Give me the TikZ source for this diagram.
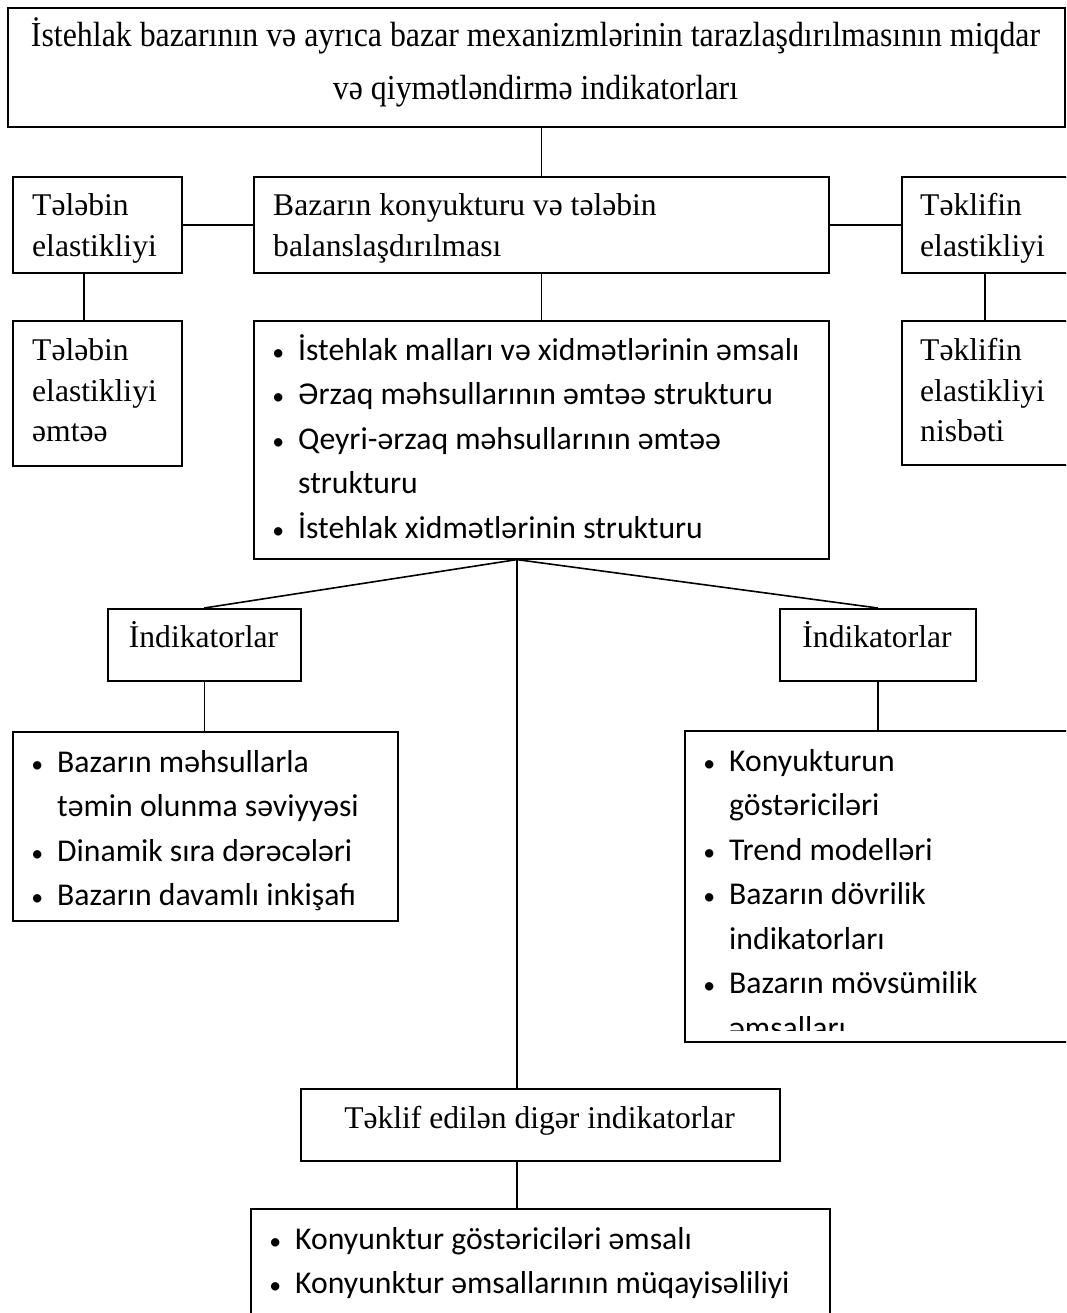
\documentclass[tikz,border=0pt]{standalone}
\usepackage{graphicx}
\usepackage{fontspec}
\setmainfont{Liberation Serif}
\newfontfamily\calibfont{Carlito}
% small bullet centred on the anchor point, item text 20pt further right
\newcommand\bul{\makebox[0pt]{\scalebox{0.75}{•}}\hspace{20pt}}
% slightly condensed heading lines
\newcommand\headline[1]{\scalebox{0.91}[1]{#1}}
\begin{document}
\begin{tikzpicture}[x=1pt,y=-1pt,
  box/.style={draw, line width=1.6pt, inner sep=0pt, anchor=north west},
  conn/.style={line width=1.6pt},
  tx/.style={anchor=base west, inner sep=0pt, font=\fontsize{31.6}{38}\selectfont},
  tc/.style={anchor=base, inner sep=0pt, font=\fontsize{31.6}{38}\selectfont},
  th/.style={anchor=base, inner sep=0pt, font=\fontsize{35}{42}\selectfont},
  li/.style={anchor=base west, inner sep=0pt, font=\calibfont\fontsize{31.7}{40}\selectfont}]
\useasboundingbox (0,0) rectangle (1066,1313);
\fill[white] (0,0) rectangle (1066,1313);
\clip (0,0) rectangle (1066,1313);

% ---- boxes ----
\node[box, minimum width=1057pt, minimum height=119pt] (title) at (7,7) {};
\node[box, minimum width=169pt, minimum height=96pt] (tel1) at (12,176) {};
\node[box, minimum width=575pt, minimum height=96pt] (bazar) at (253,176) {};
\node[box, minimum width=170pt, minimum height=96pt] (tek1) at (901,176) {};
\node[box, minimum width=169pt, minimum height=145pt] (tel2) at (12,320) {};
\node[box, minimum width=575pt, minimum height=238pt] (list0) at (253,320) {};
\node[box, minimum width=170pt, minimum height=144pt] (tek2) at (901,320) {};
\node[box, minimum width=193pt, minimum height=72pt] (ind1) at (107,608) {};
\node[box, minimum width=196pt, minimum height=72pt] (ind2) at (779,608) {};
\node[box, minimum width=385pt, minimum height=189pt] (list1) at (12,731) {};
\node[box, minimum width=400pt, minimum height=311pt] (list2) at (684,730) {};
\node[box, minimum width=479pt, minimum height=72pt] (other) at (300,1088) {};
\node[box, minimum width=579pt, minimum height=130pt] (list3) at (250,1208) {};

% ---- connectors ----
\coordinate (fan) at ([xshift=-24.5pt]list0.south);
\coordinate (tl) at ([xshift=-13.5pt]tel1.south);
\draw[conn] (title.south -| bazar.north) -- (bazar.north);
\draw[conn] (tel1.east) -- (bazar.west);
\draw[conn] (bazar.east) -- (tek1.west);
\draw[conn] (tl) -- (tl |- tel2.north);
\draw[conn] ([xshift=-2pt]tek1.south) -- ([xshift=-2pt]tek2.north);
\draw[conn] (bazar.south) -- (list0.north);
\draw[conn] (fan) -- (ind1.north);
\draw[conn] (fan) -- (ind2.north);
\draw[conn] (fan) -- (fan |- other.north);
\draw[conn] (ind1.south) -- (ind1.south |- list1.north);
\draw[conn] (ind2.south) -- (ind2.south |- list2.north);
\draw[conn] (fan |- other.south) -- (fan |- list3.north);

% ---- title ----
\node[th] (t1) at (535.5,47) {\headline{İstehlak bazarının və ayrıca bazar mexanizmlərinin tarazlaşdırılmasının miqdar}};
\node[th] (t2) at (535.5,100) {\headline{və qiymətləndirmə indikatorları}};

% ---- second row ----
\node[tx] (a1) at (32,216) {Tələbin};
\node[tx] (a2) at (32,257) {elastikliyi};
\node[tx] (b1) at (273,216) {Bazarın konyukturu və tələbin};
\node[tx] (b2) at (273,257) {balanslaşdırılması};
\node[tx] (c1) at (920,216) {Təklifin};
\node[tx] (c2) at (920,257) {elastikliyi};

% ---- third row ----
\node[tx] (d1) at (32,360) {Tələbin};
\node[tx] (d2) at (32,401) {elastikliyi};
\node[tx] (d3) at (32,441) {əmtəə};
\node[tx] (e1) at (920,360) {Təklifin};
\node[tx] (e2) at (920,401) {elastikliyi};
\node[tx] (e3) at (920,441) {nisbəti};

\node[li] (f1) at (278,360) {\bul İstehlak malları və xidmətlərinin əmsalı};
\node[li] (f2) at (278,404.5) {\bul Ərzaq məhsullarının əmtəə strukturu};
\node[li] (f3) at (278,449) {\bul Qeyri-ərzaq məhsullarının əmtəə};
\node[li] (f4) at (298,493.5) {strukturu};
\node[li] (f5) at (278,538) {\bul İstehlak xidmətlərinin strukturu};

% ---- indicator boxes ----
\node[tc] (g1) at (203.5,647) {İndikatorlar};
\node[tc] (g2) at (877,647) {İndikatorlar};

\node[li] (h1) at (37,772) {\bul Bazarın məhsullarla};
\node[li] (h2) at (57,816.5) {təmin olunma səviyyəsi};
\node[li] (h3) at (37,861) {\bul Dinamik sıra dərəcələri};
\node[li] (h4) at (37,905.5) {\bul Bazarın davamlı inkişafı};

\begin{scope}
\clip (684,730) rectangle (1066,1030);
\node[li] (k1) at (709,771) {\bul Konyukturun};
\node[li] (k2) at (729,815.5) {göstəriciləri};
\node[li] (k3) at (709,860) {\bul Trend modelləri};
\node[li] (k4) at (709,904.5) {\bul Bazarın dövrilik};
\node[li] (k5) at (729,949) {indikatorları};
\node[li] (k6) at (709,993.5) {\bul Bazarın mövsümilik};
\node[li] (k7) at (729,1038) {əmsalları};
\end{scope}

% ---- bottom ----
\node[tc] (m1) at (539.5,1128) {Təklif edilən digər indikatorlar};
\node[li] (n1) at (275,1249) {\bul Konyunktur göstəriciləri əmsalı};
\node[li] (n2) at (275,1293.5) {\bul Konyunktur əmsallarının müqayisəliliyi};
\end{tikzpicture}
\end{document}
